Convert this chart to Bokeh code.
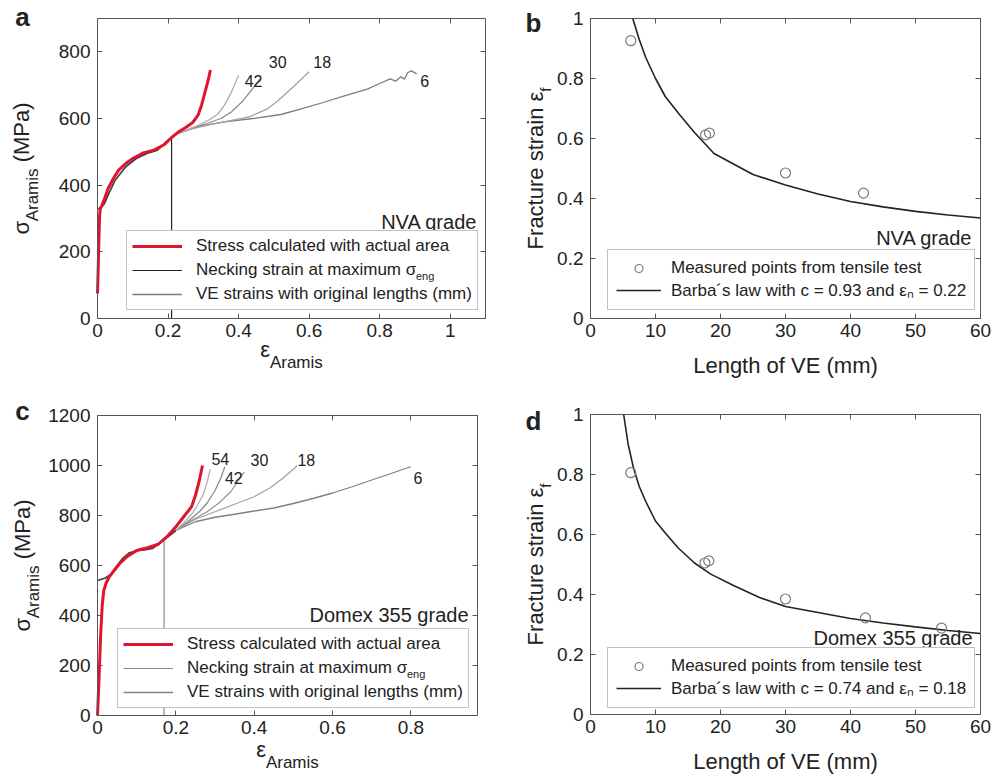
import math
from bokeh.plotting import figure
from bokeh.models import (Label, Legend, LegendItem, LinearAxis, FixedTicker,
                          CustomJSTickFormatter, Range1d)
from bokeh.core.properties import value
from bokeh.layouts import column, row
from bokeh.embed import file_html
from bokeh.resources import INLINE

FONT = "Liberation Sans"
TXT = "#222222"
AX = "#555555"

# ---------------- data: panel a (NVA grade) ----------------
a_red_x = [0.0, 0.002, 0.004, 0.006, 0.008, 0.012, 0.02, 0.03, 0.045, 0.06, 0.08, 0.10,
           0.13, 0.16, 0.19, 0.21, 0.23, 0.25, 0.27, 0.285, 0.295, 0.305, 0.315, 0.32]
a_red_y = [75, 150, 240, 310, 330, 338, 360, 390, 420, 445, 465, 480,
           497, 505, 522, 543, 560, 573, 588, 610, 640, 680, 720, 745]
a_eng_x = [0.0, 0.005, 0.01, 0.02, 0.03, 0.05, 0.08, 0.11, 0.14, 0.17, 0.20, 0.22]
a_eng_y = [330, 330, 332, 345, 370, 415, 455, 480, 495, 505, 535, 552]
a_ve6_x = [0.22, 0.29, 0.36, 0.44, 0.52, 0.575, 0.64, 0.70, 0.765, 0.80, 0.83, 0.845,
           0.86, 0.87, 0.88, 0.89, 0.905]
a_ve6_y = [552, 577, 590, 600, 612, 628, 648, 668, 688, 705, 719, 712, 725, 718, 738, 743, 734]
a_ve18_x = [0.22, 0.27, 0.32, 0.37, 0.43, 0.48, 0.51, 0.55, 0.58, 0.60]
a_ve18_y = [552, 570, 582, 592, 605, 628, 652, 690, 720, 740]
a_ve30_x = [0.22, 0.27, 0.31, 0.35, 0.38, 0.41, 0.44, 0.46]
a_ve30_y = [552, 572, 585, 600, 620, 650, 690, 718]
a_ve42_x = [0.22, 0.26, 0.29, 0.32, 0.34, 0.36, 0.38, 0.40]
a_ve42_y = [552, 568, 582, 598, 612, 640, 680, 730]
a_neck_strain = 0.21
a_neck_stress = 545

# ---------------- data: panel c (Domex 355 grade) ----------------
c_red_x = [0.0, 0.004, 0.008, 0.012, 0.016, 0.022, 0.03, 0.04, 0.055, 0.075, 0.10, 0.13,
           0.155, 0.18, 0.20, 0.22, 0.24, 0.25, 0.26, 0.268]
c_red_y = [0, 150, 320, 440, 500, 530, 555, 575, 605, 635, 660, 672,
           685, 720, 755, 795, 835, 880, 940, 1000]
c_eng_x = [0.0, 0.01, 0.02, 0.035, 0.05, 0.065, 0.08, 0.10, 0.12, 0.14, 0.16, 0.18, 0.20]
c_eng_y = [540, 545, 550, 565, 600, 630, 650, 660, 662, 668, 690, 715, 740]
c_ve6_x = [0.20, 0.25, 0.30, 0.35, 0.40, 0.45, 0.50, 0.55, 0.60, 0.65, 0.70, 0.75, 0.78, 0.80]
c_ve6_y = [740, 775, 793, 805, 818, 830, 848, 868, 890, 915, 942, 968, 985, 995]
c_ve18_x = [0.20, 0.25, 0.30, 0.35, 0.40, 0.44, 0.47, 0.50, 0.51]
c_ve18_y = [740, 785, 815, 845, 875, 910, 945, 985, 1000]
c_ve30_x = [0.20, 0.24, 0.28, 0.31, 0.34, 0.36, 0.375]
c_ve30_y = [740, 780, 815, 850, 895, 940, 975]
c_ve42_x = [0.20, 0.23, 0.26, 0.28, 0.30, 0.315, 0.325]
c_ve42_y = [740, 775, 815, 850, 900, 950, 995]
c_ve54_x = [0.20, 0.22, 0.24, 0.255, 0.27, 0.28, 0.288]
c_ve54_y = [740, 770, 805, 840, 885, 935, 985]
c_neck_strain = 0.17
c_neck_stress = 705

# ---------------- data: panel b (NVA) ----------------
b_len = [6.2, 17.7, 18.3, 30, 42]
b_eps = [0.926, 0.612, 0.618, 0.485, 0.418]
b_fit_len = [6.5, 7.5, 8.5, 10, 11.5, 13.5, 16, 19, 22, 25, 30, 35, 40, 45, 50, 55, 60]
b_fit_eps = [1.0, 0.93, 0.87, 0.80, 0.74, 0.685, 0.62, 0.55, 0.515, 0.48, 0.445, 0.415,
             0.39, 0.372, 0.357, 0.345, 0.335]

# ---------------- data: panel d (Domex 355) ----------------
d_len = [6.2, 17.6, 18.2, 30, 42.3, 54]
d_eps = [0.806, 0.505, 0.512, 0.385, 0.322, 0.288]
d_fit_len = [5.1, 5.8, 6.6, 7.5, 8.5, 10, 11.5, 13.5, 16, 18.5, 22, 26, 30, 35, 40, 45, 50, 55, 60]
d_fit_eps = [1.0, 0.9, 0.823, 0.76, 0.71, 0.645, 0.605, 0.555, 0.505, 0.468, 0.43, 0.39,
             0.36, 0.34, 0.32, 0.305, 0.292, 0.28, 0.27]

strain_ticks_a = [0, 0.2, 0.4, 0.6, 0.8, 1]
strain_ticks_c = [0, 0.2, 0.4, 0.6, 0.8]
stress_ticks_a = [0, 200, 400, 600, 800]
stress_ticks_c = [0, 200, 400, 600, 800, 1000, 1200]
len_ticks = [0, 10, 20, 30, 40, 50, 60]
frac_ticks = [0, 0.2, 0.4, 0.6, 0.8, 1]

# approximate Liberation Sans advance widths (em)
CW = {' ': .278, '(': .333, ')': .333, 'A': .667, 'B': .667, 'D': .722, 'E': .667, 'F': .611,
      'L': .556, 'M': .833, 'N': .722, 'P': .667, 'S': .667, 'V': .667,
      'a': .556, 'b': .556, 'c': .5, 'd': .556, 'e': .556, 'f': .278, 'g': .556, 'h': .556,
      'i': .222, 'k': .5, 'l': .222, 'm': .833, 'n': .556, 'o': .556, 'p': .556, 'r': .333,
      's': .5, 't': .278, 'u': .556, 'w': .722, 'x': .5, 'y': .5, '.': .278, '=': .584,
      'σ': .60, 'ε': .44, '´': .333}


def tw(s, size):
    return sum(CW.get(ch, .556) for ch in s) * size


def make_fig(fw, fh, box, xr, yr, xticks, yticks):
    """Figure whose frame fills the canvas; the axes box sits at `box` (left, top, w, h)."""
    L, T, W, H = box
    x0, x1 = xr
    y0, y1 = yr
    sx = W / (x1 - x0)
    sy = H / (y1 - y0)
    p = figure(width=fw, height=fh,
               x_range=Range1d(x0 - L / sx, x1 + (fw - L - W) / sx),
               y_range=Range1d(y0 - (fh - T - H) / sy, y1 + T / sy),
               x_axis_location=None, y_axis_location=None, min_border=0,
               output_backend="svg", toolbar_location=None)
    p.xgrid.visible = False
    p.ygrid.visible = False
    p.outline_line_color = None
    p.background_fill_color = "white"
    p.border_fill_color = "white"
    fmt = CustomJSTickFormatter(code="return String(Math.round(tick*1000)/1000)")
    blank = CustomJSTickFormatter(code="return ''")
    common = dict(major_tick_in=5, major_tick_out=0, minor_tick_line_color=None,
                  axis_line_color=AX, major_tick_line_color=AX,
                  major_label_text_font=FONT, major_label_text_font_size="19px",
                  major_label_text_color=TXT)
    xb = LinearAxis(fixed_location=y0, bounds=(x0, x1), ticker=FixedTicker(ticks=xticks),
                    formatter=fmt, major_label_standoff=5, **common)
    yl = LinearAxis(fixed_location=x0, bounds=(y0, y1), ticker=FixedTicker(ticks=yticks),
                    formatter=fmt, major_label_standoff=7, **common)
    xt = LinearAxis(fixed_location=y1, bounds=(x0, x1), ticker=FixedTicker(ticks=xticks),
                    formatter=blank, major_label_standoff=0, **common)
    yr_ = LinearAxis(fixed_location=x1, bounds=(y0, y1), ticker=FixedTicker(ticks=yticks),
                     formatter=blank, major_label_standoff=0, **common)
    p.add_layout(xb, "below")
    p.add_layout(yl, "left")
    p.add_layout(xt, "above")
    p.add_layout(yr_, "right")
    return p, xb


def label(p, x, y, text, size, align="left", angle=0.0, style="normal"):
    # (x, y): screen position of the text's vertical middle
    p.add_layout(Label(x=x, y=y, x_units="screen", y_units="screen", text=text,
                       text_font=FONT, text_font_size=f"{size}px", text_color=TXT,
                       text_align=align, text_baseline="middle", angle=angle,
                       text_font_style=style))


def _pieces(parts, start):
    pos = start
    for t, s, sub in parts:
        stripped = t.lstrip(" ")
        pos += tw(t[:len(t) - len(stripped)], s)
        yield stripped, s, sub, pos
        pos += tw(stripped, s)


def xtitle(p, parts, cx, y_main, y_sub):
    total = sum(tw(t, s) for t, s, _ in parts)
    for t, s, sub, x in _pieces(parts, cx - total / 2):
        label(p, x, y_sub if sub else y_main, t, s)


def ytitle(p, parts, cy, x_main, x_sub):
    total = sum(tw(t, s) for t, s, _ in parts)
    for t, s, sub, y in _pieces(parts, cy - total / 2):
        label(p, x_sub if sub else x_main, y, t, s, angle=math.pi / 2)


def stress_panel(fw, fh, box, xmax, ymax, xticks, yticks,
                 red_x, red_y, eng_x, eng_y, ves, neck_x, neck_y, neck_color,
                 grade, grade_xy, leg_loc, letter, letter_xy, xt_pos, yt_pos):
    p, _ = make_fig(fw, fh, box, (0, xmax), (0, ymax), xticks, yticks)
    r_neck = p.line([neck_x, neck_x], [0, neck_y], line_color=neck_color, line_width=1.2)
    r_ve = None
    for name, vx, vy, col, dx, dy in ves:
        r = p.line(vx, vy, line_color=col, line_width=1.3)
        if r_ve is None:
            r_ve = r
        p.text(x=[vx[-1]], y=[vy[-1]], text=[name], x_offset=dx, y_offset=dy,
               text_font=value(FONT), text_font_size="16px", text_color=TXT,
               text_align="center", text_baseline="middle")
    p.line(eng_x, eng_y, line_color="#3a3a3a", line_width=1.6)
    r_red = p.line(red_x, red_y, line_color="#e0142e", line_width=3)
    pad, gw, st, rh, sp = 5, 50, 14, 20, 4
    leg = Legend(items=[LegendItem(label="Stress calculated with actual area", renderers=[r_red]),
                        LegendItem(label="Necking strain at maximum σ", renderers=[r_neck]),
                        LegendItem(label="VE strains with original lengths (mm)", renderers=[r_ve])],
                 location=leg_loc, label_text_font=FONT, label_text_font_size="17px",
                 label_text_color=TXT, glyph_width=gw, glyph_height=rh, label_height=rh,
                 label_standoff=st, padding=pad, spacing=sp, margin=0,
                 border_line_color="#888888", border_line_width=1,
                 background_fill_color="white", background_fill_alpha=1.0)
    p.add_layout(leg)
    # subscript "eng" of sigma_eng, drawn as a tiny transparent legend on top
    sx = leg_loc[0] + pad + gw + st + tw("Necking strain at maximum σ", 17) + 1
    sy = leg_loc[1] + pad + rh * 1.5 + sp - 11
    sub = Legend(items=[LegendItem(label="eng", renderers=[r_neck])], location=(sx, sy),
                 label_text_font=FONT, label_text_font_size="11px", label_text_color=TXT,
                 glyph_width=0, glyph_height=10, label_height=10, label_standoff=0,
                 padding=0, spacing=0, margin=0, border_line_color=None,
                 background_fill_alpha=0.0)
    p.add_layout(sub)
    label(p, grade_xy[0], grade_xy[1], grade, 20, align="right")
    label(p, letter_xy[0], letter_xy[1], letter, 26, align="center", style="bold")
    xtitle(p, [("ε", 22, False), ("Aramis", 17, True)], xt_pos[0], xt_pos[1], xt_pos[2])
    ytitle(p, [("σ", 22, False), ("Aramis", 17, True), (" (MPa)", 22, False)],
           yt_pos[0], yt_pos[1], yt_pos[2])
    return p


def frac_panel(fw, fh, box, pts_x, pts_y, fit_x, fit_y, fit_label, grade, grade_xy,
               leg_loc, letter, letter_xy, yt_pos):
    p, xb = make_fig(fw, fh, box, (0, 60), (0, 1), len_ticks, frac_ticks)
    r_fit = p.line(fit_x, fit_y, line_color="#222222", line_width=1.6)
    r_pts = p.scatter(pts_x, pts_y, marker="circle", size=10, fill_color=None,
                      line_color="#7a7a7a", line_width=1.2)
    leg = Legend(items=[LegendItem(label="Measured points from tensile test", renderers=[r_pts]),
                        LegendItem(label=fit_label, renderers=[r_fit])],
                 location=leg_loc, label_text_font=FONT, label_text_font_size="17px",
                 label_text_color=TXT, glyph_width=45, glyph_height=20, label_height=20,
                 label_standoff=10, padding=8, spacing=0, margin=0,
                 border_line_color="#888888", border_line_width=1,
                 background_fill_color="white", background_fill_alpha=1.0)
    p.add_layout(leg)
    xb.axis_label = "Length of VE (mm)"
    xb.axis_label_text_font = FONT
    xb.axis_label_text_font_size = "22px"
    xb.axis_label_text_font_style = "normal"
    xb.axis_label_text_color = TXT
    xb.axis_label_standoff = 13
    label(p, grade_xy[0], grade_xy[1], grade, 20, align="right")
    label(p, letter_xy[0], letter_xy[1], letter, 26, align="center", style="bold")
    ytitle(p, [("Fracture strain ε", 22, False), ("f", 15, True)], yt_pos[0], yt_pos[1],
           yt_pos[2])
    return p


# figure a: 493x395, axes box at (97, 18) size 388x300
pa = stress_panel(493, 395, (97, 18, 388, 300), 1.1, 900, strain_ticks_a, stress_ticks_a,
                  a_red_x, a_red_y, a_eng_x, a_eng_y,
                  [("6", a_ve6_x, a_ve6_y, "#7d7d7d", 8, 7),
                   ("18", a_ve18_x, a_ve18_y, "#a3a3a3", 13, -10),
                   ("30", a_ve30_x, a_ve30_y, "#8f8f8f", 18, -17),
                   ("42", a_ve42_x, a_ve42_y, "#b8aca4", 15, 6)],
                  a_neck_strain, a_neck_stress, "#222222",
                  "NVA grade", (477, 174), (126, 85), "a", (22, 379),
                  (291, 46, 33), (227, 21, 32))

# figure b: 500x395, axes box at (97, 18) size 390x300
pb = frac_panel(500, 395, (97, 18, 390, 300), b_len, b_eps, b_fit_len, b_fit_eps,
                "Barba´s law with c = 0.93 and εₙ = 0.22",
                "NVA grade", (479, 158), (114, 85), "b", (40, 373), (227, 42, 52))

# figure c: 493x380, axes box at (97, 20) size 380x300
pc = stress_panel(493, 380, (97, 20, 380, 300), 0.97, 1200, strain_ticks_c, stress_ticks_c,
                  c_red_x, c_red_y, c_eng_x, c_eng_y,
                  [("6", c_ve6_x, c_ve6_y, "#808080", 7, 11),
                   ("18", c_ve18_x, c_ve18_y, "#a3a3a3", 9, -6),
                   ("30", c_ve30_x, c_ve30_y, "#969696", 15, -12),
                   ("42", c_ve42_x, c_ve42_y, "#8a8a8a", 9, 11),
                   ("54", c_ve54_x, c_ve54_y, "#b0b0b0", 10, -10)],
                  c_neck_strain, c_neck_stress, "#8a8a8a",
                  "Domex 355 grade", (468, 161), (117, 67), "c", (22, 365),
                  (287, 26, 13), (210, 22, 33))

# figure d: 500x380, axes box at (97, 19) size 390x300
pd = frac_panel(500, 380, (97, 19, 390, 300), d_len, d_eps, d_fit_len, d_fit_eps,
                "Barba´s law with c = 0.74 and εₙ = 0.18",
                "Domex 355 grade", (479, 138), (114, 67), "d", (40, 355), (211, 42, 52))

layout = column(row(pa, pb), row(pc, pd))
open("out.html", "w").write(file_html(layout, INLINE))
